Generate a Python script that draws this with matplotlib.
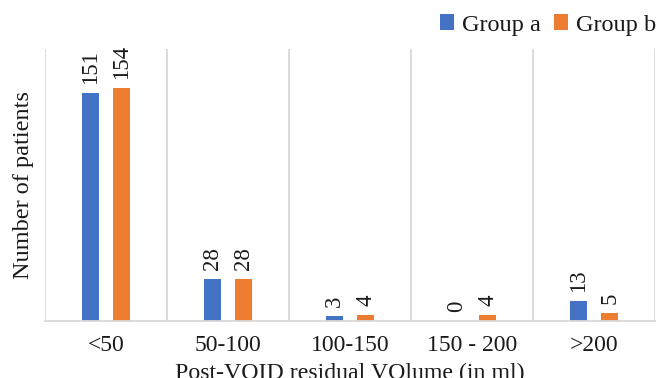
import matplotlib
matplotlib.use("Agg")
import matplotlib.pyplot as plt
import numpy as np

categories = ["<50", "50-100", "100-150", "150 - 200", ">200"]
group_a = [151, 28, 3, 0, 13]
group_b = [154, 28, 4, 4, 5]
series_names = ["Group a", "Group b"]

plt.rcParams["font.family"] = ["Liberation Serif", "DejaVu Serif"]

fig = plt.figure(figsize=(6.56, 3.78), dpi=100)
ax = fig.add_axes([0.0686, 0.151, 0.93, 0.719])

x = np.arange(len(categories))
w = 0.135
off = 0.127
blue = "#4472C4"
orange = "#ED7D31"
text_color = "#1a1a1a"

bars_a = ax.bar(x - off, group_a, w, color=blue, label=series_names[0])
bars_b = ax.bar(x + off, group_b, w, color=orange, label=series_names[1])

for bars, vals in ((bars_a, group_a), (bars_b, group_b)):
    for b, v in zip(bars, vals):
        ax.annotate(str(v), (b.get_x() + b.get_width() / 2, v),
                    xytext=(0, 6.5), textcoords="offset points",
                    rotation=90, ha="center", va="bottom", fontsize=16.5,
                    color=text_color)

ax.set_xlim(-0.5, len(categories) - 0.5)
ax.set_ylim(0, 180)
ax.set_xticks(x)
ax.set_xticklabels(categories, fontsize=17, color=text_color)
ax.set_yticks([])
ax.set_xticks(np.arange(-0.5, len(categories)), minor=True)
ax.tick_params(axis="x", which="both", length=0, pad=10)
ax.grid(axis="x", which="minor", color="#d9d9d9", linewidth=1.3)
ax.set_axisbelow(True)
for s in ("top", "left", "right"):
    ax.spines[s].set_visible(False)
ax.spines["bottom"].set_color("#d9d9d9")
ax.spines["bottom"].set_linewidth(1.3)

ax.set_ylabel("Number of patients", fontsize=17.5, color=text_color, labelpad=8)
ax.set_xlabel("Post-VOID residual VOlume (in ml)", fontsize=17.2,
              color=text_color, labelpad=5)

leg = fig.legend(loc="upper left", bbox_to_anchor=(0.637, 1.02), ncol=2,
                 frameon=False, fontsize=17.5, handlelength=0.6,
                 handleheight=0.6, columnspacing=0.55, handletextpad=0.3)
for t in leg.get_texts():
    t.set_color(text_color)

fig.savefig("out.png", dpi=100)
